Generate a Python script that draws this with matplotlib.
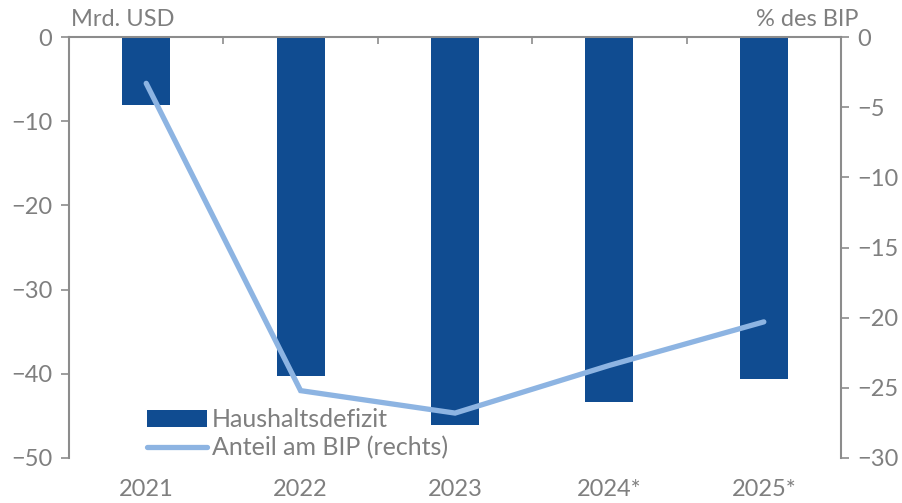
import matplotlib
matplotlib.use("Agg")
import matplotlib.pyplot as plt
from matplotlib.ticker import FixedLocator
import numpy as np

plt.rcParams['font.family'] = ['Lato', 'DejaVu Sans']

years = ["2021", "2022", "2023", "2024*", "2025*"]
deficit_bn_usd = [-8.1, -40.3, -46.1, -43.3, -40.6]
share_of_gdp = [-3.3, -25.2, -26.8, -23.4, -20.3]

bar_color = "#104c91"
line_color = "#8db4e2"
grey = "#7f7f7f"
axis_grey = "#8c8c8c"

fig = plt.figure(figsize=(9.02, 5.03), dpi=100)
ax = fig.add_axes([0.0765, 0.0895, 0.9324 - 0.0765, 0.9264 - 0.0895])
ax2 = ax.twinx()

x = np.arange(len(years))
ax.bar(x, deficit_bn_usd, width=0.31, color=bar_color, label="Haushaltsdefizit", zorder=2)
ax2.plot(x, share_of_gdp, color=line_color, lw=3.8, solid_capstyle="round",
         solid_joinstyle="miter", label="Anteil am BIP (rechts)", zorder=3)

ax.set_xlim(-0.5, len(years) - 0.5)
ax.set_ylim(-50, 0)
ax2.set_ylim(-30, 0)
ax.set_yticks(np.arange(-50, 1, 10))
ax2.set_yticks(np.arange(-30, 1, 5))

# category labels below, boundary ticks on the zero line at the top
ax.set_xticks(x)
ax.set_xticklabels(years)
ax.xaxis.set_minor_locator(FixedLocator(np.arange(0.5, len(years) - 1, 1.0)))
ax.tick_params(axis="x", which="major", length=0, pad=15, labelsize=17, labelcolor=grey)
ax.tick_params(axis="x", which="minor", bottom=False, top=True, direction="in",
               length=5, width=1.2, color=axis_grey)
ax.tick_params(axis="y", which="major", direction="out", length=6, width=1.2,
               color=axis_grey, labelsize=17, labelcolor=grey, pad=6)
ax2.tick_params(axis="y", which="major", direction="out", length=6, width=1.2,
                color=axis_grey, labelsize=17, labelcolor=grey, pad=6)

for a in (ax, ax2):
    a.spines["bottom"].set_visible(False)
    for s in ("top", "left", "right"):
        a.spines[s].set_color(axis_grey)
        a.spines[s].set_linewidth(1.5)
ax2.spines["left"].set_visible(False)
ax2.spines["top"].set_visible(False)
ax.spines["right"].set_visible(False)

fig.text(0.079, 0.962, "Mrd. USD", fontsize=17, color=grey, ha="left", va="center")
fig.text(0.952, 0.962, "% des BIP", fontsize=17, color=grey, ha="right", va="center")

h1, l1 = ax.get_legend_handles_labels()
h2, l2 = ax2.get_legend_handles_labels()
leg = fig.legend(h1 + h2, l1 + l2, loc="upper left", bbox_to_anchor=(0.163, 0.188),
                 frameon=False, fontsize=18, labelcolor=grey, handlelength=2.4,
                 handletextpad=0.2, labelspacing=0.2, borderpad=0, borderaxespad=0)

fig.savefig("out.png", dpi=100)
